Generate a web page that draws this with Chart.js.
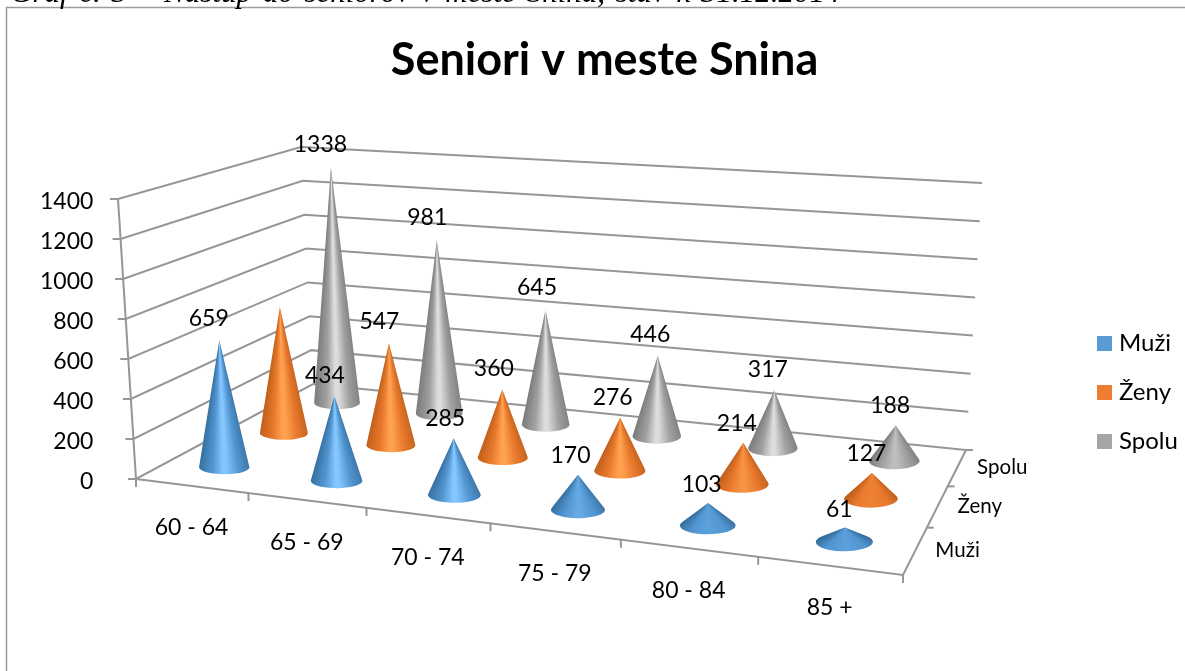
<!DOCTYPE html>
<html lang="sk">
<head>
<meta charset="utf-8">
<title>Seniori v meste Snina</title>
<style>
html,body{margin:0;padding:0;background:#fff;overflow:hidden;width:1185px;height:671px}
#cap{position:absolute;left:10px;top:-25px;font:italic 31px/34px "Liberation Serif",serif;word-spacing:3px;color:#000;white-space:nowrap}
#wrap{position:absolute;left:0;top:0;width:1185px;height:671px}
canvas{display:block}
</style>
</head>
<body>
<div id="wrap"><canvas id="c" width="1185" height="671"></canvas></div>
<div id="cap">Graf č. 3 – Nástup do seniorov v meste Snina, stav k 31.12.2014</div>
<script src="https://cdn.jsdelivr.net/npm/chart.js@4/dist/chart.umd.min.js"></script>
<script>
const categories = ['60 - 64','65 - 69','70 - 74','75 - 79','80 - 84','85 +'];
const muzi  = [659,434,285,170,103,61];
const zeny  = [679,547,360,276,214,127];
const spolu = [1338,981,645,446,317,188];
const seriesNames = ['Muži','Ženy','Spolu'];
const yTicksMax = 1400, yTickStep = 200;
const hiddenLabel = {series:1, category:0};
const colors = ['#5b9bd5','#ed7d31','#a5a5a5'];
const shades = [
  {dark:'#37709f',mid:'#5196d2',light:'#85c6ff',right:'#3f78aa'},
  {dark:'#c05f1c',mid:'#e8792c',light:'#ffa24f',right:'#c7651f'},
  {dark:'#7c7c7c',mid:'#a0a0a0',light:'#dcdcdc',right:'#838383'}
];
const FONT = 'Lato, "Open Sans", sans-serif';
// projection frame of the 3-D box
const box = {
  fl:[136,479], fr:[903,575], br:[966,450], bl:[313,384],
  flTop:[118,199], blTop:[301,147], brTop:[982,183]
};
const lerp=(a,b,t)=>[a[0]+(b[0]-a[0])*t,a[1]+(b[1]-a[1])*t];
function makeH(p0,p1,p2,p3){ // unit square -> quad  (0,0)=p0 (1,0)=p1 (1,1)=p2 (0,1)=p3
  const dx1=p1[0]-p2[0],dx2=p3[0]-p2[0],sx=p0[0]-p1[0]+p2[0]-p3[0];
  const dy1=p1[1]-p2[1],dy2=p3[1]-p2[1],sy=p0[1]-p1[1]+p2[1]-p3[1];
  const den=dx1*dy2-dx2*dy1;
  const g=(sx*dy2-dx2*sy)/den,h=(dx1*sy-sx*dy1)/den;
  const a=p1[0]-p0[0]+g*p1[0],b=p3[0]-p0[0]+h*p3[0],c=p0[0];
  const d=p1[1]-p0[1]+g*p1[1],e=p3[1]-p0[1]+h*p3[1],f=p0[1];
  return (u,v)=>{const w=g*u+h*v+1;return [(a*u+b*v+c)/w,(d*u+e*v+f)/w];};
}
const floor=makeH(box.fl,box.fr,box.br,box.bl);
const nSeries=seriesNames.length;
const frac=(x,s)=>(x-s.left)/(s.right-s.left);
function swatch(col){
  const cv=document.createElement('canvas');cv.width=15;cv.height=15;
  const c=cv.getContext('2d');c.fillStyle=col;c.fillRect(0,0,15,15);
  return cv;
}
function mix(a,b,t){
  const p=s=>[1,3,5].map(i=>parseInt(s.slice(i,i+2),16));
  const A=p(a),B=p(b);
  return 'rgb('+A.map((v,i)=>Math.round(v+(B[i]-v)*t)).join(',')+')';
}
function coneGeom(chart,ds,i){
  const xs=chart.scales.x, ys=chart.scales.y;
  const n=categories.length;
  const u=frac(xs.getPixelForValue(i),xs);
  const d=(ds+.5)/nSeries;
  const c=floor(u,d);
  const w=Math.hypot(...[0,1].map(k=>floor(u+.5/n,d)[k]-floor(u-.5/n,d)[k]));
  const rx=(.23-.03*u)*w, ry=rx*(.27+.06*u);
  const val=chart.data.datasets[ds].data[i];
  const h=(ys.getPixelForValue(0)-ys.getPixelForValue(val))*(.96-.11*d)+3;
  const lean=(c[0]-560)/8600;
  return {cx:c[0],cy:c[1],rx,ry,h,s:-lean,ax:c[0]+lean*h,ay:c[1]-h,val,u,d};
}
function drawCone(ctx,g,shade){
  ctx.save();
  ctx.transform(1,0,g.s,1,-g.s*g.cy,0);
  const a=Math.atan(g.rx/g.h);
  const grad=ctx.createConicGradient(Math.PI/2-a,g.cx,g.ay);
  const sharp=Math.max(.2,Math.min(1,(g.h/g.rx-.8)/1.2));
  const light=mix(shade.mid,shade.light,sharp);
  const stops=[[1,shade.right],[.55,shade.mid],[.08,light],[-.05,light],[-.45,shade.mid],[-1,shade.dark]];
  for(const [p,col] of stops){
    const t=(a-Math.atan(p*g.rx/g.h))/(2*Math.PI);
    grad.addColorStop(Math.min(1,Math.max(0,t)),col);
  }
  const th=Math.asin(Math.min(.95,g.ry/g.h));
  ctx.beginPath();
  ctx.moveTo(g.cx,g.ay);
  ctx.ellipse(g.cx,g.cy,g.rx,g.ry,0,-th,Math.PI+th);
  ctx.closePath();
  ctx.fillStyle=grad;
  ctx.fill();
  ctx.restore();
}
const cones3d={
  id:'cones3d',
  afterLayout(chart){
    const lg=chart.legend;
    const pad=lg.options.labels.padding;
    const w=lg.right-lg.left;
    lg.left=1102-pad; lg.right=lg.left+w;
    const hgt=lg.bottom-lg.top, mid=392;
    lg.top=mid-hgt/2; lg.bottom=mid+hgt/2;
  },
  beforeDraw(chart){
    const c=chart.ctx;
    c.save();
    c.strokeStyle='#9c9c9c';c.lineWidth=1.5;
    c.beginPath();c.moveTo(chart.width,7.5);c.lineTo(6.5,7.5);c.lineTo(6.5,chart.height);c.stroke();
    c.restore();
  },
  beforeDatasetsDraw(chart){
    const c=chart.ctx, ys=chart.scales.y;
    const y0=ys.getPixelForValue(0), yT=ys.getPixelForValue(yTicksMax);
    c.save();
    c.strokeStyle='#969696';c.lineWidth=2;c.lineCap='butt';c.lineJoin='miter';
    const seg=(pts)=>{c.beginPath();pts.forEach((p,i)=>i?c.lineTo(p[0],p[1]):c.moveTo(p[0],p[1]));c.stroke();};
    for(const t of ys.ticks){
      const f=(y0-ys.getPixelForValue(t.value))/(y0-yT);
      const a=lerp(box.fl,box.flTop,f), b=lerp(box.bl,box.blTop,f), r=lerp(box.br,box.brTop,f);
      seg([[a[0]-8,a[1]],a,b,r]);
    }
    seg([box.fl,box.flTop]);
    seg([box.fl,box.fr,box.br]);
    const n=categories.length;
    for(let i=0;i<=n;i++){const p=floor(i/n,0);seg([p,[p[0],p[1]+8]]);}
    for(let j=1;j<=nSeries;j++){const p=floor(1,j/nSeries);seg([p,[p[0]+7,p[1]]]);}
    c.restore();
  },
  beforeDatasetDraw(chart,args){
    const c=chart.ctx;
    args.meta.data.forEach((el,i)=>drawCone(c,coneGeom(chart,args.index,i),shades[args.index]));
    return false;
  },
  afterDatasetsDraw(chart){
    const c=chart.ctx,xs=chart.scales.x;
    c.save();
    c.fillStyle='#000';c.textAlign='center';c.textBaseline='middle';
    c.font='23px '+FONT;
    chart.data.datasets.forEach((ds,j)=>ds.data.forEach((v,i)=>{
      if(j===hiddenLabel.series&&i===hiddenLabel.category)return;
      const g=coneGeom(chart,j,i);
      c.fillText(String(v),g.ax-11+6*g.u,g.ay-21-3*g.d+4*g.u);
    }));
    categories.forEach((lab,i)=>{
      const p=floor(frac(xs.getPixelForValue(i),xs),0);
      c.fillText(lab,p[0],p[1]+42);
    });
    c.textAlign='left';c.font='20.5px '+FONT;
    seriesNames.forEach((lab,j)=>{
      const p=floor(1,(j+.5)/nSeries);
      c.fillText(lab,p[0]+20,p[1]);
    });
    c.restore();
  }
};
Chart.defaults.font.family=FONT;
new Chart(document.getElementById('c'),{
  type:'bar',
  data:{labels:categories,datasets:[
    {label:seriesNames[0],data:muzi,backgroundColor:colors[0]},
    {label:seriesNames[1],data:zeny,backgroundColor:colors[1]},
    {label:seriesNames[2],data:spolu,backgroundColor:colors[2]}
  ]},
  plugins:[cones3d],
  options:{
    responsive:false,animation:false,
    layout:{padding:{left:40,right:16,top:0,bottom:0}},
    scales:{
      x:{display:true,grid:{display:false},border:{display:false},ticks:{display:false},
         afterFit(s){s.height=189;}},
      y:{min:0,max:yTicksMax,grid:{display:false},border:{display:false},
         ticks:{stepSize:yTickStep,color:'#000',padding:0,font:{size:23},callback:v=>String(v)}}
    },
    plugins:{
      title:{display:true,text:'Seniori v meste Snina',color:'#000',
        font:{size:45,weight:'bold',family:FONT,lineHeight:1.2},padding:{top:33,bottom:115}},
      legend:{position:'right',align:'center',
        labels:{usePointStyle:true,pointStyleWidth:5,boxHeight:15,padding:25,color:'#000',font:{size:24},
          generateLabels(chart){
            return Chart.defaults.plugins.legend.labels.generateLabels(chart).map((it,i)=>{
              it.pointStyle=swatch(colors[i]);return it;
            });
          }}},
      tooltip:{enabled:false}
    }
  }
});
</script>
</body>
</html>
